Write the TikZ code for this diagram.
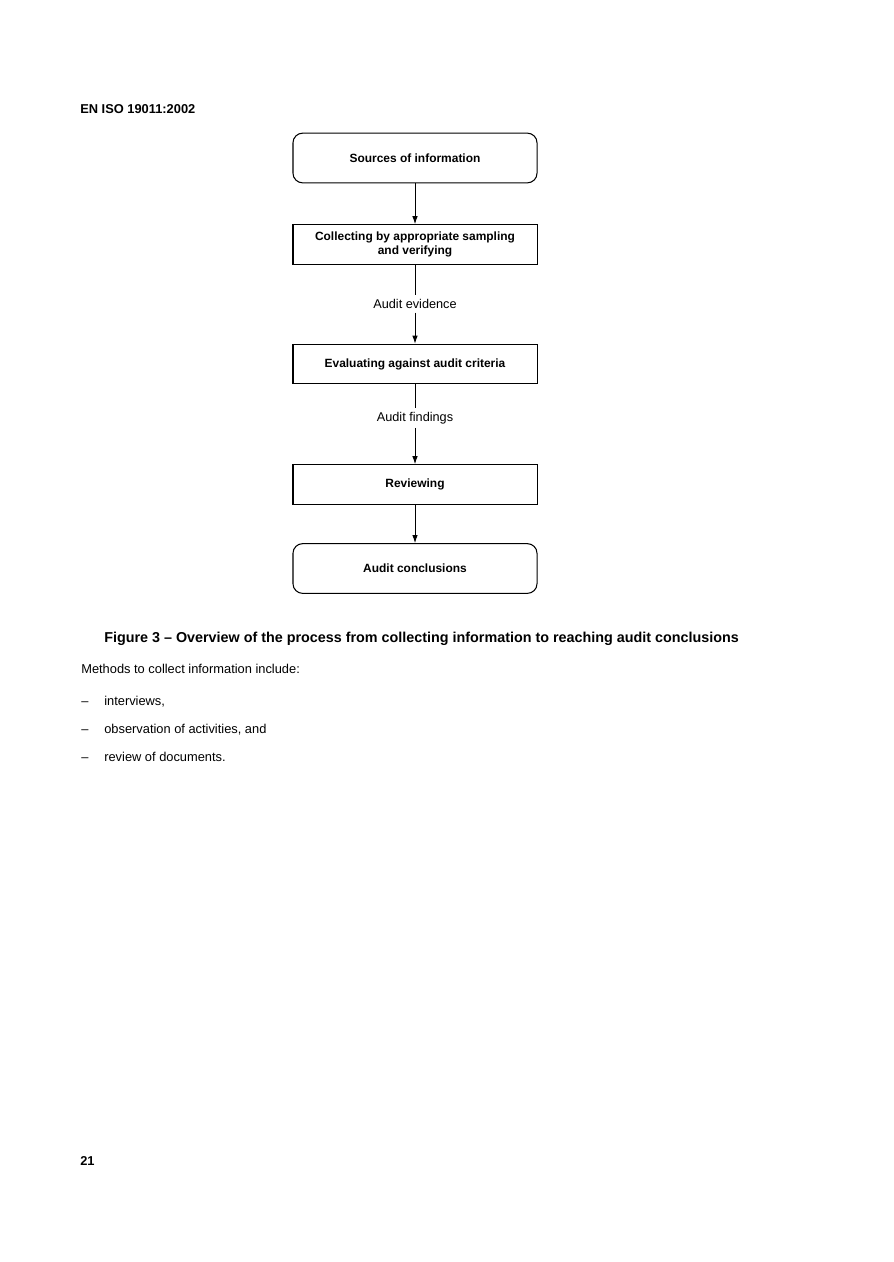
\documentclass[tikz,border=0pt]{standalone}
\usepackage{fontspec}
\setmainfont{Liberation Sans}
\usetikzlibrary{arrows.meta,positioning}

\begin{document}
\begin{tikzpicture}[
    x=0.2352mm, y=-0.2352mm,
    box/.style={draw, line width=0.7pt, fill=white, minimum width=57.4mm, minimum height=9.3mm,
      align=center, font=\fontsize{8}{9.5}\selectfont\bfseries, inner sep=2pt},
    endbox/.style={box, rounded corners=6.5pt, minimum height=11.7mm},
    flow/.style={-{Latex[length=1.9mm,width=1.3mm]}, line width=0.6pt},
    link/.style={line width=0.6pt},
    lbl/.style={font=\fontsize{8.5}{10}\selectfont, inner sep=2.5pt},
    txt/.style={anchor=base west, font=\fontsize{8.6}{10}\selectfont, inner sep=0pt}
  ]
  \useasboundingbox (0,0) rectangle (893,1262);
  \node[txt, font=\fontsize{8.6}{10}\selectfont\bfseries] (std) at (80,113.5) {EN ISO 19011:2002};

  % flow chart
  \node[endbox] (sources) at (415,158) {Sources of information};
  \node[box] (collect) at (415,244.5) {Collecting by appropriate sampling\\and verifying};
  \node[lbl] (evidence) at (415,304) {Audit evidence};
  \node[box] (evaluate) at (415,364) {Evaluating against audit criteria};
  \node[lbl] (findings) at (415,418) {Audit findings};
  \node[box] (review) at (415,484.5) {Reviewing};
  \node[endbox] (concl) at (415,568.5) {Audit conclusions};
  \draw[flow] (sources) -- (collect);
  \draw[link] (collect) -- (evidence);
  \draw[flow] (evidence) -- (evaluate);
  \draw[link] (evaluate) -- (findings);
  \draw[flow] (findings) -- (review);
  \draw[flow] (review) -- (concl);

  % caption and text
  \node[txt, font=\fontsize{9.6}{11}\selectfont\bfseries] (caption) at (104,642)
    {Figure 3 \textendash\ Overview of the process from collecting information to reaching audit conclusions};
  \node[txt] (methods) at (81,673.5) {Methods to collect information include:};
  \node[txt] (dash1) at (81,705.5) {\textendash};
  \node[txt] (item1) at (104,705.5) {interviews,};
  \node[txt] (dash2) at (81,733.5) {\textendash};
  \node[txt] (item2) at (104,733.5) {observation of activities, and};
  \node[txt] (dash3) at (81,761.5) {\textendash};
  \node[txt] (item3) at (104,761.5) {review of documents.};
  \node[txt, font=\fontsize{8.6}{10}\selectfont\bfseries] (page) at (80,1165.5) {21};
\end{tikzpicture}
\end{document}
